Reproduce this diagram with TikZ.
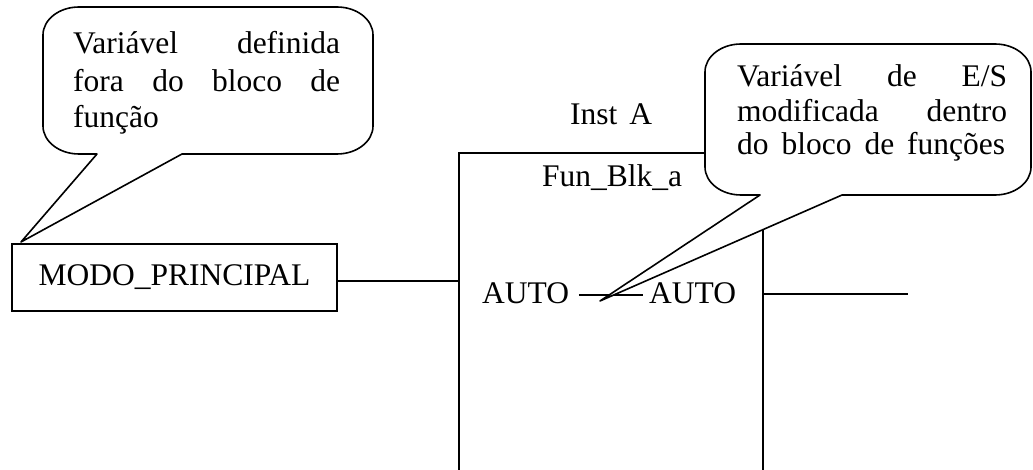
\documentclass[tikz,border=0pt]{standalone}
\usepackage{fontspec}
\setmainfont{Liberation Serif}
\begin{document}
\begin{tikzpicture}[x=1pt,y=1pt,
  every node/.style={font=\fontsize{31.5}{36}\selectfont},
  lbl/.style={inner sep=0pt, anchor=base west},
  wire/.style={line width=1.6pt},
  bubble/.style={draw, line width=1.6pt, fill=white, line join=round},
  corner/.style={x radius=36, y radius=28},
]
\path[use as bounding box] (0,0) rectangle (1033,469);

% function block outline (open at the bottom)
\coordinate (blkSW) at (459,-2);
\coordinate (blkNW) at (459,316);
\coordinate (blkNE) at (763,316);
\coordinate (blkSE) at (763,-2);
\draw[wire] (blkSW) -- (blkNW) -- (blkNE) -- (blkSE);

% input variable and its wire
\node[draw, line width=1.6pt, minimum width=325pt, minimum height=67pt, inner sep=0pt]
  (modo) at (174.5,191.5) {MODO\_PRINCIPAL};
\coordinate (inA) at (459,188);
\draw[wire] (modo.east |- inA) -- (inA);

% labels of the block
\node[lbl] (inst) at (570,344) {Inst\hspace{12pt}A};
\node[lbl] (fb) at (542,282) {Fun\_Blk\_a};
\node[lbl] (autoL) at (482,166) {AUTO};
\node[lbl] (autoR) at (649,166) {AUTO};
\draw[wire, shorten <=9.5pt, shorten >=6pt]
  ([yshift=8pt]autoL.base east) -- ([yshift=8pt]autoR.base west);

% output wire
\coordinate (outR) at (908,175);
\draw[wire] (blkSE |- outR) -- (outR);

% callout: variable defined outside the block
\draw[bubble] (97,315) -- (21,227) -- (182,315) -- (337,315)
  arc[start angle=270, end angle=360, corner] -- (373,434)
  arc[start angle=0, end angle=90, corner] -- (79,462)
  arc[start angle=90, end angle=180, corner] -- (43,343)
  arc[start angle=180, end angle=270, corner] -- cycle;
\node[lbl] (c1a) at (73,415) {\makebox[267pt][s]{Variável definida}};
\node[lbl] (c1b) at (73,377) {\makebox[267pt][s]{fora do bloco de}};
\node[lbl] (c1c) at (73,341) {função};

% callout: in/out variable modified inside the block
\draw[bubble] (760,274) -- (600,168) -- (842,274) -- (995,274)
  arc[start angle=270, end angle=360, corner] -- (1031,397)
  arc[start angle=0, end angle=90, corner] -- (741,425)
  arc[start angle=90, end angle=180, corner] -- (705,302)
  arc[start angle=180, end angle=270, corner] -- cycle;
\node[lbl] (c2a) at (737,382) {\makebox[270pt][s]{Variável de E/S}};
\node[lbl] (c2b) at (737,347) {\makebox[270pt][s]{modificada dentro}};
\node[lbl] (c2c) at (737,314) {\makebox[268pt][s]{do bloco de funções}};
\end{tikzpicture}
\end{document}
